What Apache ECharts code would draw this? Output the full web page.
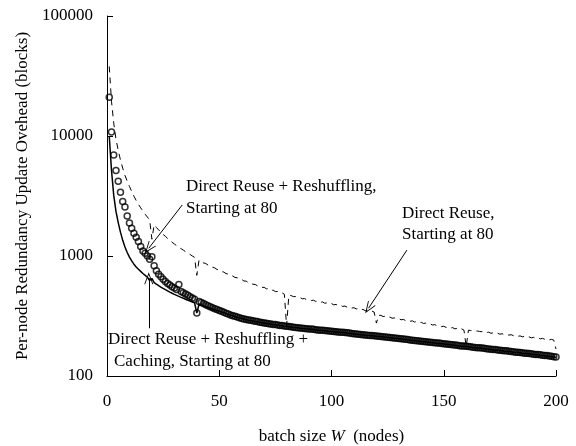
<!DOCTYPE html>
<html>
<head>
<meta charset="utf-8">
<script src="https://cdn.jsdelivr.net/npm/echarts@6/dist/echarts.min.js"></script>
<style>
  html, body { margin: 0; padding: 0; background: #fff; }
  #chart { width: 576px; height: 446px; }
</style>
</head>
<body>
<div id="chart"></div>
<script>
// values for batch sizes W = 1..200 (one per integer)
let reshuffleCircles = [
  21000, 10800, 6950, 5150, 4200, 3400, 2850, 2560, 2150, 1880,
  1700, 1550, 1430, 1320, 1200, 1100, 1055, 1000, 940, 985,
  830, 755, 705, 672, 640, 612, 590, 572, 555, 540,
  526, 578, 505, 494, 482, 470, 458, 447, 436, 335,
  418, 409, 401, 393, 385, 378, 371, 364, 358, 352,
  346, 340, 334, 328, 322, 318, 314, 310, 306, 302,
  299, 296, 293, 291, 288, 286, 284, 281, 279, 277,
  275, 273, 271, 269, 268, 266, 264, 263, 261, 260,
  258, 257, 255, 254, 253, 251, 250, 249, 248, 247,
  246, 245, 243, 242, 241, 240, 239, 238, 237, 236,
  235, 234, 233, 232, 231, 230, 229, 228, 226, 225,
  224, 223, 222, 221, 220, 219, 218, 217, 216, 215,
  214, 213, 212, 211, 210, 209, 208, 207, 206, 205,
  204, 203, 202, 201, 200, 199, 198, 197, 196, 195,
  194, 193, 192, 191, 190, 189, 188, 188, 187, 186,
  185, 184, 183, 182, 181, 180, 179, 178, 178, 177,
  176, 175, 174, 173, 172, 172, 171, 170, 169, 168,
  167, 166, 166, 165, 164, 163, 162, 162, 161, 160,
  159, 158, 158, 157, 156, 155, 155, 154, 153, 152,
  151, 151, 150, 149, 148, 148, 147, 146, 145, 144
];

let cachingLine = [
  10000, 5200, 3200, 2350, 1900, 1580, 1350, 1190, 1070, 980,
  910, 855, 810, 775, 745, 715, 690, 665, 625, 650,
  600, 582, 566, 551, 537, 524, 512, 500, 489, 479,
  470, 461, 452, 444, 436, 428, 421, 414, 407, 335,
  396, 390, 384, 378, 372, 367, 362, 357, 352, 347,
  342, 337, 332, 327, 321, 317, 313, 309, 305, 301,
  298, 295, 292, 290, 287, 285, 283, 280, 278, 276,
  274, 272, 270, 268, 267, 265, 263, 262, 260, 259,
  257, 256, 254, 253, 252, 250, 249, 248, 247, 246,
  245, 244, 242, 241, 240, 239, 238, 237, 236, 235,
  234, 233, 232, 231, 230, 229, 228, 227, 225, 224,
  223, 222, 221, 220, 219, 218, 217, 216, 215, 214,
  213, 212, 211, 210, 209, 208, 207, 206, 205, 204,
  203, 202, 201, 200, 199, 198, 197, 196, 195, 194,
  193, 192, 191, 190, 189, 188, 187, 187, 186, 185,
  184, 183, 182, 181, 180, 179, 178, 177, 177, 176,
  175, 174, 173, 172, 171, 171, 170, 169, 168, 167,
  166, 165, 165, 164, 163, 162, 161, 161, 160, 159,
  158, 157, 157, 156, 155, 154, 154, 153, 152, 151,
  150, 150, 149, 148, 147, 147, 146, 145, 144, 143
];

let directReuseDashed = [
  38000, 19500, 12800, 9400, 7600, 6300, 5400, 4700, 4200, 3800,
  3450, 3150, 2900, 2700, 2520, 2370, 2230, 2110, 2000, 1380,
  1820, 1730, 1650, 1580, 1510, 1460, 1400, 1350, 1300, 1260,
  1220, 1180, 1150, 1120, 1085, 1055, 1030, 1000, 975, 690,
  925, 910, 876, 866, 840, 829, 805, 796, 772, 764,
  741, 735, 713, 707, 686, 682, 662, 659, 640, 637,
  619, 617, 599, 598, 581, 580, 564, 563, 548, 548,
  533, 533, 518, 519, 505, 506, 492, 493, 480, 262,
  470, 468, 459, 459, 448, 450, 440, 442, 432, 434,
  425, 428, 418, 421, 411, 414, 404, 407, 398, 401,
  392, 395, 386, 389, 380, 383, 374, 377, 368, 371,
  362, 365, 356, 359, 350, 353, 344, 347, 341, 276,
  320, 320, 313, 315, 308, 310, 303, 305, 298, 300,
  294, 296, 290, 292, 286, 288, 282, 284, 278, 280,
  274, 276, 270, 272, 266, 268, 262, 264, 258, 260,
  254, 256, 251, 253, 247, 250, 244, 247, 241, 176,
  241, 239, 239, 237, 237, 235, 234, 234, 230, 232,
  227, 229, 225, 227, 223, 225, 221, 223, 219, 221,
  217, 219, 214, 216, 212, 214, 210, 212, 208, 210,
  206, 208, 204, 206, 202, 204, 200, 202, 199, 168
];

let xTicks = [0, 50, 100, 150, 200];
let yTicks = [100, 1000, 10000, 100000];

// annotation arrows: [from, to] in data coordinates (W, blocks)
let arrowReshuffle = [[33.5, 2660], [18.6, 1160]];
let arrowDirect = [[133.6, 1120], [116.5, 367]];
let arrowCaching = [[18.6, 250], [18.6, 652]];

const FONT = '"Liberation Serif", "Times New Roman", serif';

function toPairs(arr) {
  return arr.map(function (v, i) {
    return [i + 1, v];
  });
}

function arrowLine(a) {
  return [{coord: a[0]}, {coord: a[1]}];
}

let chartDom = document.getElementById('chart');
let myChart = echarts.init(chartDom, null, {renderer: 'canvas'});

let option = {
  animation: false,
  backgroundColor: '#fff',
  grid: {
    left: 107,
    right: 20,
    top: 16,
    bottom: 70,
    containLabel: false,
    outerBoundsMode: 'none'
  },
  xAxis: {
    type: 'value',
    min: xTicks[0],
    max: xTicks[xTicks.length - 1],
    interval: 50,
    name: '{a|batch size }{i|W}{a|  (nodes)}',
    nameLocation: 'middle',
    nameGap: 52,
    nameTextStyle: {
      rich: {
        a: {fontFamily: FONT, fontSize: 17, color: '#000'},
        i: {fontFamily: FONT, fontSize: 17, color: '#000', fontStyle: 'italic'}
      }
    },
    axisLine: {lineStyle: {color: '#000', width: 1}},
    axisTick: {inside: true, length: 6, lineStyle: {color: '#000'}},
    axisLabel: {fontFamily: FONT, fontSize: 17, color: '#000', margin: 17},
    splitLine: {show: false}
  },
  yAxis: {
    type: 'log',
    logBase: 10,
    min: yTicks[0],
    max: yTicks[yTicks.length - 1],
    name: 'Per-node Redundancy Update Ovehead (blocks)',
    nameLocation: 'middle',
    nameGap: 71,
    nameTextStyle: {fontFamily: FONT, fontSize: 17, color: '#000'},
    axisLine: {show: true, lineStyle: {color: '#000', width: 1}},
    axisTick: {inside: true, length: 6, lineStyle: {color: '#000'}},
    minorTick: {show: false},
    axisLabel: {
      fontFamily: FONT, fontSize: 17, color: '#000', margin: 14,
      formatter: function (v) {
        return String(Math.round(v));
      }
    },
    splitLine: {show: false}
  },
  series: [
    {
      name: 'Direct Reuse',
      type: 'line',
      data: toPairs(directReuseDashed),
      showSymbol: false,
      symbol: 'none',
      lineStyle: {color: '#000', width: 1, type: [6, 5]},
      z: 2
    },
    {
      name: 'Direct Reuse + Reshuffling + Caching',
      type: 'line',
      data: toPairs(cachingLine),
      showSymbol: false,
      symbol: 'none',
      lineStyle: {color: '#000', width: 1.5},
      z: 3,
      markLine: {
        silent: true,
        symbol: ['none', 'path://M5,0 L10,12 L9,12 L5,2.5 L1,12 L0,12 Z'],
        symbolSize: [9, 12],
        label: {show: false},
        lineStyle: {color: '#000', width: 1, type: 'solid'},
        data: [arrowLine(arrowReshuffle), arrowLine(arrowDirect), arrowLine(arrowCaching)]
      }
    },
    {
      name: 'Direct Reuse + Reshuffling',
      type: 'scatter',
      data: toPairs(reshuffleCircles),
      symbol: 'circle',
      symbolSize: 6,
      itemStyle: {color: 'rgba(0,0,0,0)', borderColor: '#000', borderWidth: 1.5},
      z: 4
    }
  ],
  graphic: [
    {type: 'text', left: 186, top: 178, style: {text: 'Direct Reuse + Reshuffling,', font: '17px ' + FONT, fill: '#000'}},
    {type: 'text', left: 186, top: 200, style: {text: 'Starting at 80', font: '17px ' + FONT, fill: '#000'}},
    {type: 'text', left: 402, top: 205, style: {text: 'Direct Reuse,', font: '17px ' + FONT, fill: '#000'}},
    {type: 'text', left: 402, top: 226, style: {text: 'Starting at 80', font: '17px ' + FONT, fill: '#000'}},
    {type: 'text', left: 108, top: 331, style: {text: 'Direct Reuse + Reshuffling +', font: '17px ' + FONT, fill: '#000'}},
    {type: 'text', left: 114, top: 353, style: {text: 'Caching, Starting at 80', font: '17px ' + FONT, fill: '#000'}}
  ]
};

option && myChart.setOption(option);
</script>
</body>
</html>
